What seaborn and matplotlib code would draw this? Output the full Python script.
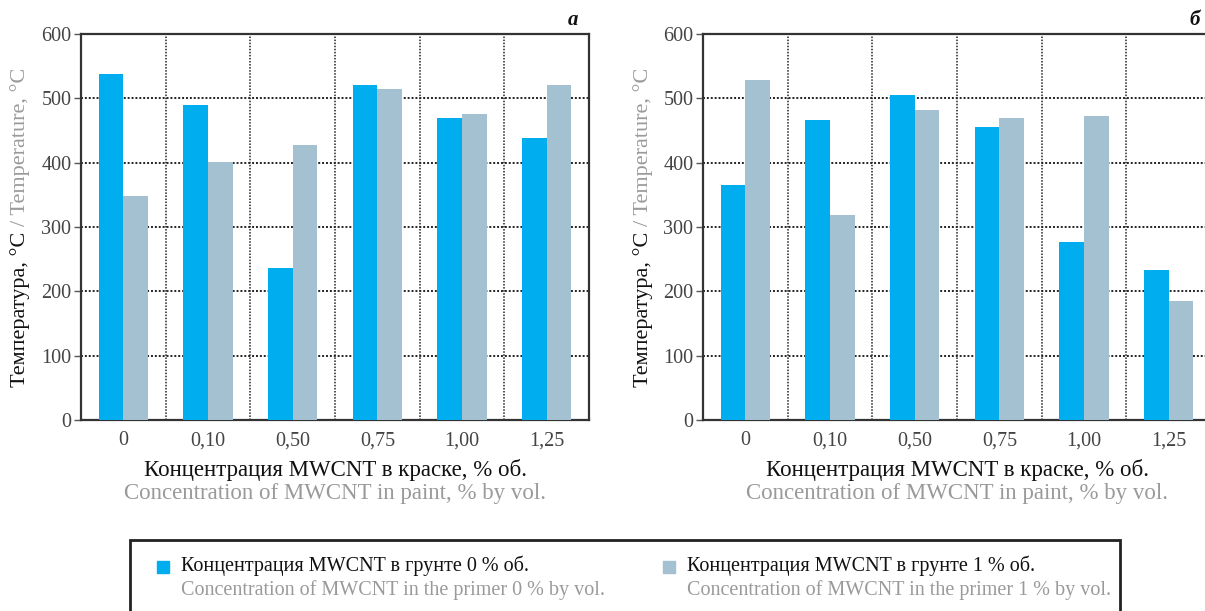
import pandas as pd
import matplotlib
matplotlib.use('Agg')
import matplotlib.pyplot as plt
from matplotlib.patches import Rectangle
from matplotlib.ticker import FixedLocator
import seaborn as sns

# данные
conc = ['0', '0,10', '0,50', '0,75', '1,00', '1,25']
primer = ['0 %', '1 %']
temp_a_p0 = [538, 490, 236, 520, 470, 438]
temp_a_p1 = [348, 401, 428, 514, 476, 520]
temp_b_p0 = [366, 467, 505, 455, 277, 233]
temp_b_p1 = [529, 318, 482, 470, 473, 185]

blue = '#00aeef'
grey = '#a3c1d1'
txt_grey = '#9a9a9a'

sns.set_theme(style='white')
plt.rcParams['font.family'] = ['Liberation Serif', 'DejaVu Serif']

W, H = 1205, 611
fig = plt.figure(figsize=(W / 100, H / 100), dpi=100)


def box(x0, y0, x1, y1):
    return [x0 / W, 1 - y1 / H, (x1 - x0) / W, (y1 - y0) / H]


def panel(ax, p0, p1, letter):
    df = pd.DataFrame({
        'conc': conc * 2,
        'temp': p0 + p1,
        'primer': [primer[0]] * len(conc) + [primer[1]] * len(conc),
    })
    sns.barplot(data=df, x='conc', y='temp', hue='primer', order=conc,
                palette=[blue, grey], width=0.58, gap=0, saturation=1,
                legend=False, ax=ax, linewidth=0, zorder=3)
    ax.set_xlim(-0.5, len(conc) - 0.5)
    ax.set_ylim(0, 600)
    ax.set_yticks(range(0, 601, 100))
    ax.xaxis.set_minor_locator(FixedLocator([i + 0.5 for i in range(len(conc) - 1)]))
    ax.grid(False)
    ax.grid(True, axis='y', which='major', color='#222222', linestyle=(0, (1, 1)), lw=1.4, zorder=1)
    ax.grid(True, axis='x', which='minor', color='#222222', linestyle=(0, (1, 1)), lw=1.1, zorder=1)
    ax.set_axisbelow(True)
    for s in ax.spines.values():
        s.set_color('#333333')
        s.set_linewidth(1.6)
    ax.tick_params(axis='x', which='both', length=0, labelsize=14.5, labelcolor='#444444', pad=8)
    ax.tick_params(axis='y', length=5, width=1, color='#555555', labelsize=14.5,
                   labelcolor='#444444', pad=2, left=True)
    ax.set_xlabel('')
    ax.set_ylabel('')
    x_letter = ax.get_position().x1 - 16 / W
    fig.text(x_letter, 1 - 20 / H, letter, ha='center', va='center',
             fontsize=15, fontstyle='italic', fontweight='bold', color='#111111')


ax1 = fig.add_axes(box(81, 34, 589, 420))
ax2 = fig.add_axes(box(703, 34, 1211, 420))
panel(ax1, temp_a_p0, temp_a_p1, 'а')
panel(ax2, temp_b_p0, temp_b_p1, 'б')

# подписи осей
fig.canvas.draw()
r = fig.canvas.get_renderer()
for ax, xl in [(ax1, 20), (ax2, 643)]:
    t1 = fig.text(xl / W, 0, 'Температура, °C', rotation=90, ha='center',
                  va='bottom', fontsize=16, color='#111111')
    t2 = fig.text(xl / W, 0, '/ Temperature, °C', rotation=90, ha='center',
                  va='bottom', fontsize=16, color=txt_grey)
    h1 = t1.get_window_extent(r).height
    h2 = t2.get_window_extent(r).height
    gap = 6
    yc = (1 - 227 / H) * H
    y0 = yc - (h1 + gap + h2) / 2
    t1.set_y(y0 / H)
    t2.set_y((y0 + h1 + gap) / H)
    pos = ax.get_position()
    xc = (pos.x0 + pos.x1) / 2
    fig.text(xc, 1 - 470 / H, 'Концентрация MWCNT в краске, % об.', ha='center', va='center',
             fontsize=16.5, color='#111111')
    fig.text(xc, 1 - 494 / H, 'Concentration of MWCNT in paint, % by vol.', ha='center',
             va='center', fontsize=16.5, color=txt_grey)

# легенда
fig.patches.append(Rectangle((130 / W, -0.05), (1120 - 130) / W, 0.05 + (1 - 540 / H),
                             transform=fig.transFigure, fill=False, edgecolor='#222222',
                             lw=2, clip_on=False))
for x0, col, ru, en in [(157, blue, 'Концентрация MWCNT в грунте 0 % об.',
                         'Concentration of MWCNT in the primer 0 % by vol.'),
                        (663, grey, 'Концентрация MWCNT в грунте 1 % об.',
                         'Concentration of MWCNT in the primer 1 % by vol.')]:
    fig.patches.append(Rectangle((x0 / W, 1 - 573 / H), 12 / W, 12 / H,
                                 transform=fig.transFigure, color=col))
    fig.text((x0 + 24) / W, 1 - 566 / H, ru, ha='left', va='center', fontsize=14.5, color='#111111')
    fig.text((x0 + 24) / W, 1 - 590 / H, en, ha='left', va='center', fontsize=14.5, color=txt_grey)

fig.savefig('out.png', dpi=100)
